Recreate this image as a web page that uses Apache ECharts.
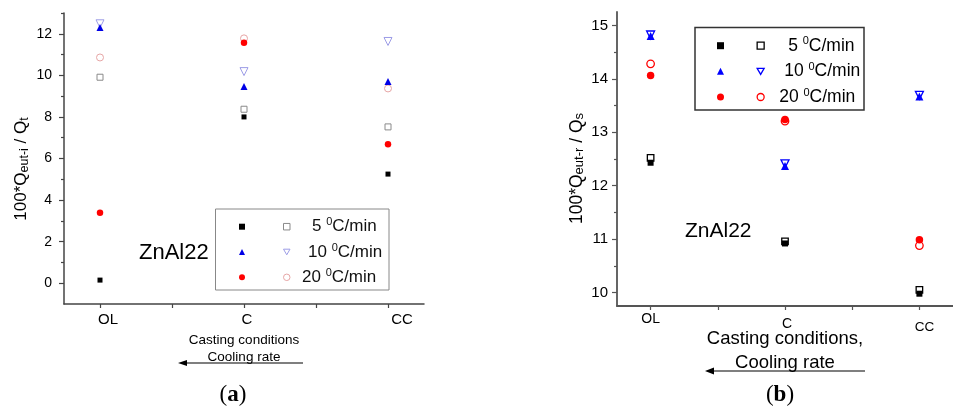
<!DOCTYPE html>
<html><head><meta charset="utf-8">
<script src="https://cdn.jsdelivr.net/npm/echarts@6/dist/echarts.min.js"></script>
<style>html,body{margin:0;padding:0;background:#fff}#c{width:953px;height:407px}</style>
</head><body><div id="c"></div>
<script>
// ---- data ----
const categories = ['OL', 'C', 'CC'];
const catPos = [1, 2, 3];
const rateLabels = ['5', '10', '20'];
// panel (a): 100*Q eut-i / Q t
const a5Filled  = [0.15, 8.00, 5.25];
const a5Open    = [9.91, 8.37, 7.52];
const a10Filled = [12.30, 9.46, 9.70];
const a10Open   = [12.48, 10.18, 11.63];
const a20Filled = [3.39, 11.57, 6.68];
const a20Open   = [10.86, 11.78, 9.37];
const aYTicks = [0, 2, 4, 6, 8, 10, 12];
const aYMinor = [1, 3, 5, 7, 9, 11, 13];
// panel (b): 100*Q eut-r / Q s
const b5Filled  = [12.43, 10.92, 9.98];
const b5Open    = [12.52, 10.96, 10.05];
const b10Filled = [14.80, 12.37, 13.67];
const b10Open   = [14.82, 12.41, 13.69];
const b20Filled = [14.06, 13.24, 10.99];
const b20Open   = [14.28, 13.21, 10.88];
const bYTicks = [10, 11, 12, 13, 14, 15];
const bYMinor = [10.5, 11.5, 12.5, 13.5, 14.5];
const xMinor = [1.5, 2.5];

const FONT = '"Liberation Sans", Arial, sans-serif';
const SERIF = '"Liberation Serif", "DejaVu Serif", serif';
const DOWN = 'path://M0,0L10,0L5,8.66Z';
const chart = echarts.init(document.getElementById('c'));

function pts(vals) { return vals.map((v, i) => [catPos[i], v]); }
function ser(name, vals, idx, symbol, size, color, border, bw, z) {
  return { type: 'scatter', name, xAxisIndex: idx, yAxisIndex: idx, data: pts(vals),
    symbol, symbolSize: size, silent: true, z: z,
    itemStyle: { color, borderColor: border, borderWidth: bw, opacity: 1 } };
}
const T = 'rgba(0,0,0,0)';

function mainY(gi, min, max, ticks, fs, margin, lc, lw) {
  return { type: 'value', gridIndex: gi, position: 'left', min, max, splitLine: { show: false },
    axisLine: { show: true, onZero: false, lineStyle: { color: lc, width: lw } },
    axisTick: { show: true, inside: false, length: 5, customValues: ticks, lineStyle: { color: lc, width: 1.2 } },
    axisLabel: { customValues: ticks, fontFamily: FONT, fontSize: fs, color: '#000', margin } };
}
function minorY(gi, min, max, ticks, lc) {
  return { type: 'value', gridIndex: gi, position: 'left', offset: 0, min, max, splitLine: { show: false },
    axisLine: { show: false, onZero: false },
    axisTick: { show: true, inside: false, length: 3, customValues: ticks, lineStyle: { color: lc, width: 1.2 } },
    axisLabel: { show: false } };
}
function minorX(gi, lc) {
  return { type: 'value', gridIndex: gi, position: 'bottom', offset: 0, min: 0.75, max: 3.25, splitLine: { show: false },
    axisLine: { show: false, onZero: false },
    axisTick: { show: true, inside: false, length: 4, customValues: xMinor, lineStyle: { color: lc, width: 1.2 } },
    axisLabel: { show: false } };
}

const legendText = (name) => {
  const i = ['5o', '10o', '20o'].indexOf(name.slice(1));
  return '{r' + i + '|' + rateLabels[i] + ' }{sup|0}{t|C/min}';
};
const blankText = { fontSize: 17, lineHeight: 20, color: 'rgba(0,0,0,0)' };

const option = {
  animation: false,
  grid: [
    { left: 64, top: 13, width: 360, height: 291 },
    { left: 617, top: 12, width: 348, height: 294 }
  ],
  xAxis: [
    { type: 'value', gridIndex: 0, position: 'bottom', min: 0.75, max: 3.25, splitLine: { show: false },
      axisLine: { onZero: false, lineStyle: { color: '#444', width: 1.5 } },
      axisTick: { show: true, inside: false, length: 4, customValues: catPos, lineStyle: { color: '#444', width: 1.2 } },
      axisLabel: { customValues: catPos, margin: 8, color: '#000', fontFamily: FONT, fontSize: 15,
        formatter: v => '{l' + (v - 1) + '|' + categories[v - 1] + '}',
        rich: { l0: { fontSize: 15, padding: [0, 0, 0, 16] }, l1: { fontSize: 15, padding: [0, 0, 0, 6] }, l2: { fontSize: 15, padding: [0, 0, 0, 28] } } },
      name: 'Casting conditions\nCooling rate', nameLocation: 'middle', nameGap: 28, nameMoveOverlap: false,
      nameTextStyle: { fontFamily: FONT, fontSize: 13.5, lineHeight: 17, color: '#000' } },
    { type: 'value', gridIndex: 1, position: 'bottom', min: 0.75, max: 3.25, splitLine: { show: false },
      axisLine: { onZero: false, lineStyle: { color: '#555', width: 1.8 } },
      axisTick: { show: true, inside: false, length: 4, customValues: catPos, lineStyle: { color: '#555', width: 1.2 } },
      axisLabel: { customValues: catPos, margin: 6, color: '#000', fontFamily: FONT, fontSize: 14,
        formatter: v => '{l' + (v - 1) + '|' + categories[v - 1] + '}',
        rich: { l0: { fontSize: 14, padding: [0, 0, 0, 0] }, l1: { fontSize: 14, padding: [5, 0, 0, 4] }, l2: { fontSize: 13.5, padding: [8, 0, 0, 10] } } },
      name: 'Casting conditions,\nCooling rate', nameLocation: 'middle', nameGap: 21, nameMoveOverlap: false,
      nameTextStyle: { fontFamily: FONT, fontSize: 18.5, lineHeight: 23.7, color: '#000' } },
    minorX(0, '#444'),
    minorX(1, '#555')
  ],
  yAxis: [
    mainY(0, -1, 13, aYTicks, 14, 12, '#444', 1.5),
    mainY(1, 9.75, 15.25, bYTicks, 15, 9, '#555', 1.8),
    minorY(0, -1, 13, aYMinor, '#444'),
    minorY(1, 9.75, 15.25, bYMinor, '#555')
  ],
  legend: [
    { left: 239, top: 216.7, padding: 0, orient: 'vertical', itemWidth: 6, itemHeight: 6, itemGap: 5.3, selectedMode: false,
      data: [
        { name: 'a5f', icon: 'rect', itemStyle: { color: '#000', borderWidth: 0 } },
        { name: 'a10f', icon: 'triangle', itemStyle: { color: '#0000e6', borderWidth: 0 } },
        { name: 'a20f', icon: 'circle', itemStyle: { color: '#ff0000', borderWidth: 0 } }],
      formatter: () => 'x', textStyle: blankText },
    { left: 283, top: 216.7, padding: 0, orient: 'vertical', itemWidth: 6.5, itemHeight: 6.5, itemGap: 5.3, selectedMode: false,
      data: [
        { name: 'a5o', icon: 'rect', itemStyle: { color: T, borderColor: '#8a8a8a', borderWidth: 1 } },
        { name: 'a10o', icon: DOWN, itemStyle: { color: T, borderColor: '#9c9ce6', borderWidth: 1 } },
        { name: 'a20o', icon: 'circle', itemStyle: { color: T, borderColor: '#e6a5a5', borderWidth: 1 } }],
      formatter: legendText,
      textStyle: { fontFamily: FONT, fontSize: 17, lineHeight: 20, color: '#111', rich: {
        r0: { fontSize: 17, lineHeight: 20, padding: [0, 0, 0, 17] },
        r1: { fontSize: 17, lineHeight: 20, padding: [0, 0, 0, 13] },
        r2: { fontSize: 17, lineHeight: 20, padding: [0, 0, 0, 7] },
        sup: { fontSize: 11, lineHeight: 12, verticalAlign: 'top' },
        t: { fontSize: 17, lineHeight: 20 } } } },
    { left: 717, top: 35.7, padding: 0, orient: 'vertical', itemWidth: 7, itemHeight: 7, itemGap: 5.65, selectedMode: false,
      data: [
        { name: 'b5f', icon: 'rect', itemStyle: { color: '#000', borderWidth: 0 } },
        { name: 'b10f', icon: 'triangle', itemStyle: { color: '#0000ff', borderWidth: 0 } },
        { name: 'b20f', icon: 'circle', itemStyle: { color: '#ff0000', borderWidth: 0 } }],
      formatter: () => 'x', textStyle: blankText },
    { left: 756.5, top: 35.7, padding: 0, orient: 'vertical', itemWidth: 7, itemHeight: 7, itemGap: 5.65, selectedMode: false,
      data: [
        { name: 'b5o', icon: 'rect', itemStyle: { color: T, borderColor: '#000', borderWidth: 1.3 } },
        { name: 'b10o', icon: DOWN, itemStyle: { color: T, borderColor: '#0000ff', borderWidth: 1.3 } },
        { name: 'b20o', icon: 'circle', itemStyle: { color: T, borderColor: '#ff0000', borderWidth: 1.3 } }],
      formatter: legendText,
      textStyle: { fontFamily: FONT, fontSize: 17, lineHeight: 20, color: '#000', rich: {
        r0: { fontSize: 17.5, lineHeight: 20, padding: [0, 0, 0, 19] },
        r1: { fontSize: 17.5, lineHeight: 20, padding: [0, 0, 0, 15] },
        r2: { fontSize: 17.5, lineHeight: 20, padding: [0, 0, 0, 10] },
        sup: { fontSize: 11, lineHeight: 12, verticalAlign: 'top' },
        t: { fontSize: 17.5, lineHeight: 20 } } } }
  ],
  series: [
    ser('a5o', a5Open, 0, 'rect', 6, T, '#8a8a8a', 1, 3),
    ser('a10o', a10Open, 0, DOWN, 8, T, '#9c9ce6', 1, 3),
    ser('a20o', a20Open, 0, 'circle', 7, T, '#e6a5a5', 1, 3),
    ser('a5f', a5Filled, 0, 'rect', 5, '#000', '#000', 0, 4),
    ser('a10f', a10Filled, 0, 'triangle', 7, '#0000e6', '#0000e6', 0, 4),
    ser('a20f', a20Filled, 0, 'circle', 6.5, '#ff0000', '#ff0000', 0, 4),
    ser('b5o', b5Open, 1, 'rect', 6.5, T, '#000', 1.3, 3),
    ser('b10o', b10Open, 1, DOWN, 8, T, '#0000ff', 1.3, 3),
    ser('b20o', b20Open, 1, 'circle', 7.5, T, '#ff0000', 1.3, 3),
    ser('b5f', b5Filled, 1, 'rect', 6, '#000', '#000', 0, 4),
    ser('b10f', b10Filled, 1, 'triangle', 8, '#0000ff', '#0000ff', 0, 4),
    ser('b20f', b20Filled, 1, 'circle', 7.5, '#ff0000', '#ff0000', 0, 4)
  ],
  graphic: [
    { type: 'rect', shape: { x: 215.5, y: 209, width: 173.5, height: 81 }, style: { fill: 'none', stroke: '#888', lineWidth: 1 }, z: 1 },
    { type: 'rect', shape: { x: 695, y: 27.5, width: 169, height: 82.5 }, style: { fill: 'none', stroke: '#333', lineWidth: 1.5 }, z: 1 },
    { type: 'text', x: 139, y: 253, style: { text: 'ZnAl22', fontFamily: FONT, fontSize: 22, fill: '#000', verticalAlign: 'middle', align: 'left' } },
    { type: 'text', x: 685, y: 231, style: { text: 'ZnAl22', fontFamily: FONT, fontSize: 21, fill: '#000', verticalAlign: 'middle', align: 'left' } },
    { type: 'text', x: 22, y: 169, rotation: Math.PI / 2, style: {
        text: '{m|100*Q}{s|eut-i}{m| / Q}{s|t}', align: 'center', verticalAlign: 'middle', fill: '#000',
        rich: { m: { fontFamily: FONT, fontSize: 17, lineHeight: 18, verticalAlign: 'top' },
                s: { fontFamily: FONT, fontSize: 12.5, lineHeight: 12, padding: [8, 0, 0, 0], verticalAlign: 'bottom' } } } },
    { type: 'text', x: 577, y: 168.5, rotation: Math.PI / 2, style: {
        text: '{m|100*Q}{s|eut-r}{m| / Q}{s|s}', align: 'center', verticalAlign: 'middle', fill: '#000',
        rich: { m: { fontFamily: FONT, fontSize: 17.5, lineHeight: 18, verticalAlign: 'top' },
                s: { fontFamily: FONT, fontSize: 13, lineHeight: 12, padding: [8, 0, 0, 0], verticalAlign: 'bottom' } } } },
    { type: 'line', shape: { x1: 303, y1: 363, x2: 184, y2: 363 }, style: { stroke: '#000', lineWidth: 1.2 } },
    { type: 'polygon', shape: { points: [[178, 363], [187, 360], [187, 366]] }, style: { fill: '#000' } },
    { type: 'line', shape: { x1: 865, y1: 371, x2: 711, y2: 371 }, style: { stroke: '#000', lineWidth: 1.2 } },
    { type: 'polygon', shape: { points: [[705, 371], [714, 367.5], [714, 374.5]] }, style: { fill: '#000' } },
    { type: 'text', x: 233, y: 395, style: { text: '{p|(}{b|a}{p|)}', align: 'center', verticalAlign: 'middle', fill: '#000',
        rich: { p: { fontFamily: SERIF, fontSize: 23 }, b: { fontFamily: SERIF, fontSize: 23, fontWeight: 'bold' } } } },
    { type: 'text', x: 780, y: 395, style: { text: '{p|(}{b|b}{p|)}', align: 'center', verticalAlign: 'middle', fill: '#000',
        rich: { p: { fontFamily: SERIF, fontSize: 23 }, b: { fontFamily: SERIF, fontSize: 23, fontWeight: 'bold' } } } }
  ]
};
chart.setOption(option);
</script></body></html>
